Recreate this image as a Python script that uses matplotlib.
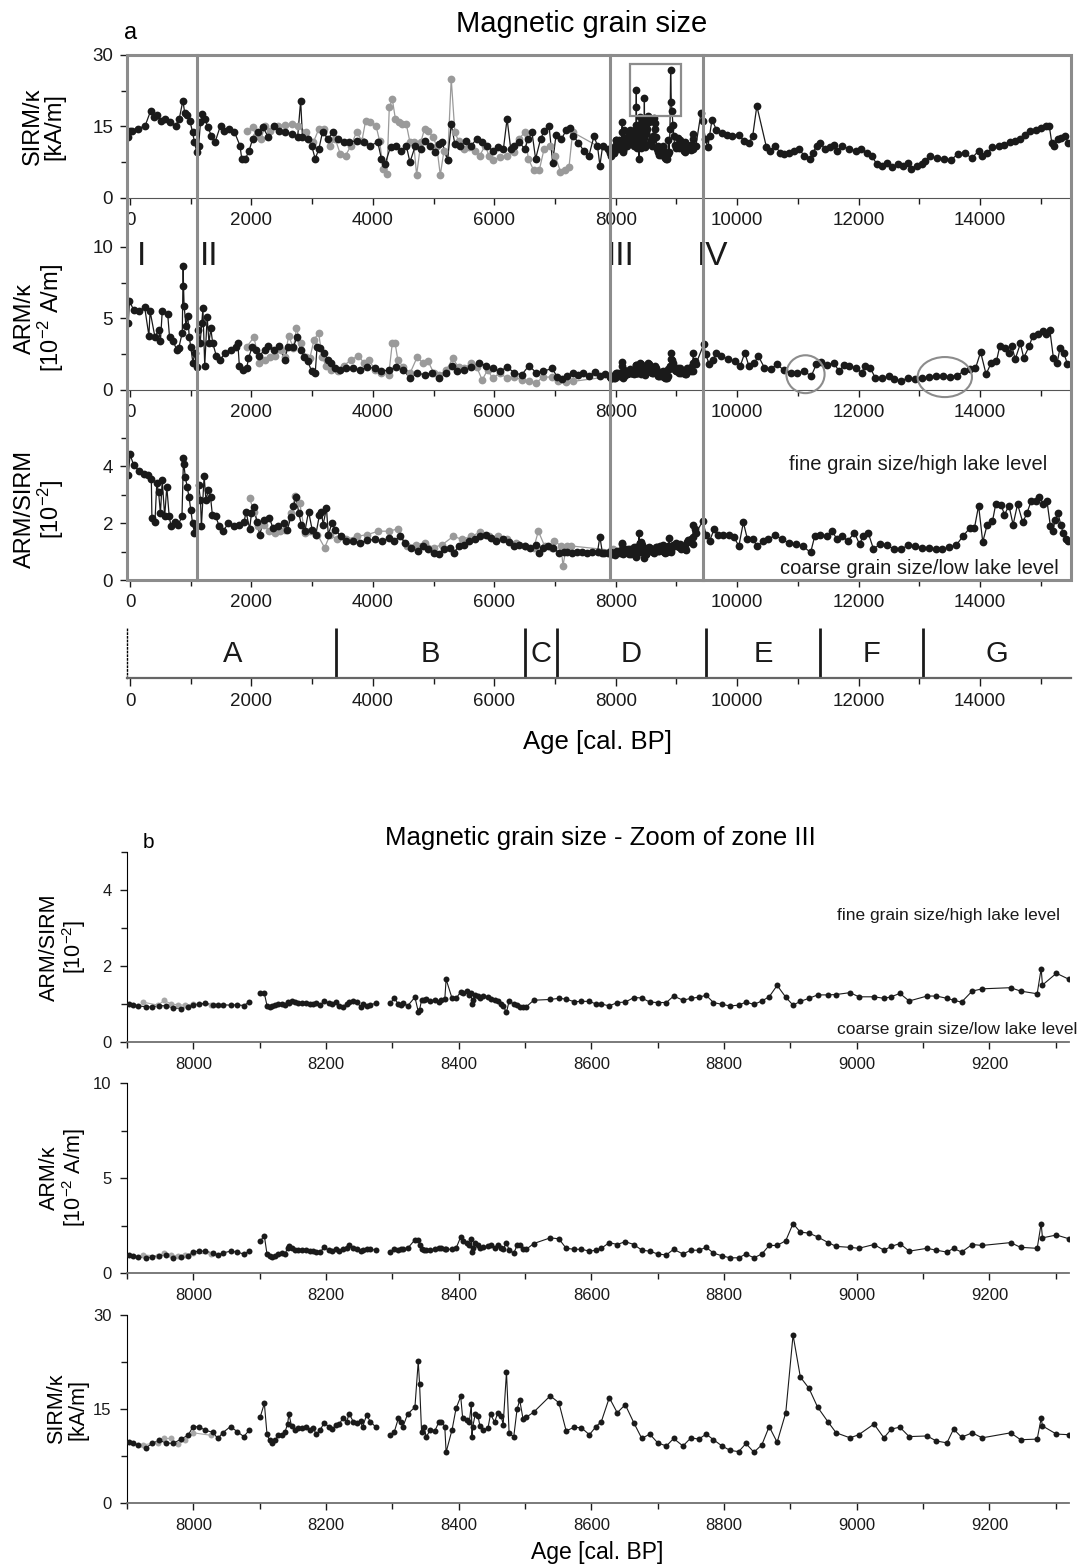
import numpy as np
import matplotlib
matplotlib.use('Agg')
from matplotlib import pyplot as plt
from matplotlib.patches import Rectangle, Ellipse
from matplotlib.lines import Line2D
from matplotlib.ticker import MultipleLocator
import matplotlib.transforms as mtransforms

plt.rcParams['font.family'] = ['Liberation Sans', 'DejaVu Sans']
plt.rcParams['mathtext.fontset'] = 'custom'
plt.rcParams['mathtext.rm'] = 'Liberation Sans'
plt.rcParams['mathtext.default'] = 'regular'

##################################################
# Zone III samples (panel b, also used in panel a)

zIII_age = [7903, 7909, 7917, 7928, 7938, 7948, 7959, 7970, 7981, 7992, 7999, 8008, 8018, 8029, 8037, 8044, 8056, 8066, 8076, 8084,
            8101, 8107, 8111, 8115, 8119, 8123, 8128, 8134, 8138, 8142, 8144, 8148, 8153, 8158, 8164, 8170, 8176, 8181, 8185, 8191,
            8197, 8204, 8209, 8215, 8220, 8225, 8231, 8235, 8241, 8246, 8252, 8255, 8261, 8267, 8275,
            8297, 8303, 8309, 8313, 8316, 8323, 8334, 8339, 8341, 8344, 8348, 8351, 8357, 8364, 8370, 8374, 8379, 8381, 8390, 8396,
            8403, 8406, 8412, 8416, 8419, 8420, 8421, 8425, 8429, 8432, 8437, 8444, 8448, 8454, 8459, 8464, 8467, 8472, 8476, 8483,
            8488, 8492, 8497, 8502, 8513, 8538, 8551, 8562, 8574, 8585, 8597, 8607,
            8615, 8627, 8639, 8651, 8664, 8676, 8688, 8700, 8713, 8724, 8738, 8750, 8762, 8773, 8784, 8797, 8809, 8822, 8833, 8845,
            8857, 8868, 8880, 8893, 8904, 8915, 8928, 8941, 8957, 8969, 8990, 9003, 9026, 9041, 9052, 9065, 9079, 9106, 9120, 9136,
            9146, 9158, 9174, 9189, 9232, 9247, 9272, 9278, 9280, 9301, 9320]

zIII_sirm = [9.7, 9.5, 9.3, 8.8, 9.5, 10.0, 9.6, 9.5, 10.2, 10.8, 12.1, 12.2, 11.6, 11.3, 10.3, 11.2, 12.2, 11.4, 10.6, 11.6,
             13.8, 15.9, 11.0, 10.0, 9.6, 10.0, 10.8, 10.9, 11.3, 12.6, 14.2, 12.3, 11.7, 11.9, 11.9, 12.2, 11.7, 11.9, 11.0, 11.6,
             12.8, 12.2, 11.8, 12.4, 12.6, 13.5, 13.0, 14.2, 13.0, 12.8, 13.1, 12.1, 14.0, 13.0, 12.1,
             10.8, 11.4, 13.5, 12.9, 12.2, 14.2, 15.3, 22.6, 19.0, 11.4, 12.1, 10.5, 11.7, 11.5, 12.9, 13.0, 12.2, 8.1, 11.7, 15.1,
             17.0, 13.5, 13.2, 12.9, 15.8, 10.5, 12.1, 14.2, 13.9, 12.3, 11.7, 11.9, 14.2, 12.9, 14.4, 13.9, 12.5, 20.9, 11.1, 10.6,
             15.0, 16.4, 13.4, 13.7, 14.5, 17.1, 16.0, 11.5, 12.1, 12.0, 10.9, 12.2,
             13.0, 16.8, 14.4, 15.7, 12.8, 10.3, 11.0, 9.6, 9.1, 10.3, 9.1, 10.4, 10.2, 11.0, 10.1, 9.1, 8.4, 8.2, 9.5, 8.1,
             9.3, 12.2, 9.7, 14.4, 26.8, 20.1, 18.3, 15.3, 12.9, 11.2, 10.4, 10.9, 12.6, 10.4, 11.8, 12.1, 10.6, 10.7, 9.9, 9.6,
             11.8, 10.5, 11.2, 10.4, 11.2, 10.1, 10.2, 13.5, 12.3, 11.0, 10.9]

zIII_armk = [0.95, 0.9, 0.85, 0.8, 0.85, 0.9, 0.95, 0.8, 0.85, 0.9, 1.1, 1.15, 1.15, 1.05, 0.95, 1.05, 1.15, 1.1, 1.0, 1.15,
             1.7, 1.95, 1.0, 0.9, 0.85, 0.9, 1.0, 1.05, 1.0, 1.3, 1.4, 1.3, 1.2, 1.2, 1.2, 1.2, 1.15, 1.15, 1.1, 1.1,
             1.35, 1.2, 1.15, 1.25, 1.15, 1.25, 1.3, 1.45, 1.3, 1.25, 1.15, 1.2, 1.25, 1.25, 1.2,
             1.1, 1.25, 1.2, 1.25, 1.25, 1.3, 1.75, 1.75, 1.5, 1.25, 1.2, 1.2, 1.2, 1.25, 1.3, 1.3, 1.25, 1.25, 1.25, 1.3,
             1.9, 1.7, 1.6, 1.5, 1.8, 1.1, 1.3, 1.6, 1.45, 1.3, 1.35, 1.4, 1.5, 1.3, 1.45, 1.3, 1.25, 1.6, 1.2, 1.05,
             1.45, 1.5, 1.25, 1.25, 1.55, 1.85, 1.8, 1.3, 1.25, 1.25, 1.15, 1.2,
             1.3, 1.6, 1.5, 1.65, 1.5, 1.2, 1.15, 1.0, 0.95, 1.25, 1.0, 1.2, 1.2, 1.35, 1.05, 0.9, 0.8, 0.8, 1.0, 0.8,
             1.0, 1.45, 1.45, 1.7, 2.6, 2.15, 2.1, 1.9, 1.6, 1.4, 1.35, 1.3, 1.5, 1.2, 1.4, 1.55, 1.15, 1.3, 1.2, 1.1,
             1.3, 1.1, 1.5, 1.45, 1.6, 1.35, 1.3, 2.6, 1.85, 2.0, 1.8]

zIII_ratio = [1.0, 0.98, 0.95, 0.93, 0.92, 0.96, 0.95, 0.9, 0.88, 0.93, 0.97, 1.0, 1.02, 0.98, 0.97, 0.98, 0.97, 0.98, 0.96, 1.05,
              1.3, 1.28, 0.96, 0.93, 0.94, 0.97, 1.0, 1.0, 0.98, 1.05, 1.02, 1.08, 1.05, 1.03, 1.04, 1.03, 1.0, 1.0, 1.02, 0.97,
              1.08, 1.03, 1.0, 1.05, 0.95, 0.93, 1.0, 1.05, 1.08, 1.05, 0.93, 1.0, 0.95, 0.98, 1.02,
              1.03, 1.15, 1.0, 0.97, 1.03, 0.95, 1.18, 0.8, 0.85, 1.1, 1.1, 1.12, 1.08, 1.1, 1.05, 1.1, 1.12, 1.65, 1.15, 1.15,
              1.32, 1.3, 1.35, 1.25, 1.3, 1.0, 1.1, 1.25, 1.2, 1.15, 1.2, 1.18, 1.12, 1.1, 1.08, 1.0, 0.95, 0.78, 1.08, 1.0,
              0.97, 0.92, 0.93, 0.93, 1.1, 1.12, 1.15, 1.13, 1.06, 1.07, 1.07, 1.0,
              1.0, 0.95, 1.04, 1.05, 1.17, 1.16, 1.05, 1.04, 1.04, 1.21, 1.1, 1.15, 1.18, 1.23, 1.04, 0.99, 0.95, 0.97, 1.05, 0.99,
              1.08, 1.19, 1.49, 1.18, 0.97, 1.07, 1.15, 1.24, 1.24, 1.25, 1.3, 1.19, 1.19, 1.15, 1.19, 1.28, 1.08, 1.21, 1.21, 1.15,
              1.1, 1.05, 1.34, 1.4, 1.43, 1.34, 1.27, 1.93, 1.5, 1.81, 1.65]

zIII_breaks = [8090, 8286]

zIII_grey_age = [7924, 7947, 7956, 7966, 7977, 7987, 8000, 8027]
zIII_grey_sirm = [9.3, 9.6, 10.3, 10.3, 9.4, 10.0, 11.2, 10.8]
zIII_grey_armk = [0.95, 0.9, 1.05, 0.95, 0.9, 0.95, 1.05, 1.0]
zIII_grey_ratio = [1.05, 0.97, 1.1, 1.0, 0.98, 0.97, 1.0, 0.98]

##################################################
# Panel a, before and after zone III

sirm_early_age = [-30, 0, 40, 130, 250, 340, 400, 450, 510, 570, 660, 750, 810, 870, 900, 930, 985, 1030, 1060, 1100,
                  1130, 1160, 1190, 1240, 1280, 1340, 1400, 1490, 1550, 1630, 1720, 1810, 1840, 1900, 1960, 2020, 2110, 2190, 2280, 2370,
                  2460, 2550, 2670, 2760, 2810, 2840, 2930, 2990, 3050, 3110, 3170, 3260, 3340, 3430, 3520, 3610, 3730, 3850, 3960, 4080,
                  4140, 4200, 4290, 4380, 4470, 4550, 4610, 4700, 4790, 4850, 4940, 5030, 5090, 5140, 5230, 5290, 5350, 5440, 5530, 5620,
                  5710, 5790, 5880, 5970, 6060, 6150, 6210, 6270, 6320, 6410, 6500, 6560, 6620, 6680, 6761, 6818, 6903, 6960, 7017, 7102,
                  7188, 7244, 7301, 7386, 7472, 7557, 7642, 7699, 7739, 7784, 7869]
sirm_early = [12.8, 14.0, 14.1, 14.5, 15.2, 18.3, 16.9, 17.3, 16.2, 16.6, 15.9, 15.2, 16.6, 20.4, 17.9, 17.3, 16.2, 13.8, 11.7, 9.6,
              11.0, 15.9, 17.6, 16.6, 14.8, 13.1, 11.7, 15.2, 14.1, 14.5, 13.8, 11.0, 8.2, 8.2, 9.9, 12.4, 13.8, 14.8, 12.7, 15.2,
              14.1, 13.8, 13.4, 12.7, 20.4, 12.7, 12.4, 11.0, 8.2, 10.3, 13.8, 12.4, 13.8, 12.4, 11.7, 11.7, 12.0, 11.7, 11.0, 11.7,
              8.2, 7.1, 10.7, 11.0, 9.9, 11.0, 7.5, 11.0, 10.3, 12.0, 11.0, 9.6, 11.3, 11.7, 7.9, 15.5, 11.3, 11.0, 12.0, 11.0,
              12.4, 11.7, 11.0, 9.9, 10.7, 10.3, 16.6, 10.3, 11.0, 11.7, 10.3, 12.4, 13.8, 8.2, 12.3, 14.0, 15.0, 7.4, 13.3, 12.3,
              14.3, 14.7, 13.0, 11.6, 9.9, 8.8, 13.0, 10.9, 6.8, 10.9, 10.2]

sirm_late_age = [9403, 9432, 9477, 9517, 9545, 9585, 9659, 9744, 9830, 9915, 10028, 10114, 10199, 10256, 10324, 10483, 10540, 10625, 10710, 10767,
                 10852, 10937, 11023, 11108, 11193, 11250, 11307, 11364, 11449, 11534, 11591, 11648, 11733, 11847, 11960, 12045, 12131, 12216, 12301, 12386,
                 12472, 12557, 12642, 12727, 12813, 12870, 12955, 13040, 13097, 13182, 13295, 13409, 13523, 13636, 13750, 13864, 13977, 14034, 14119, 14205,
                 14318, 14403, 14489, 14574, 14659, 14744, 14830, 14915, 15000, 15085, 15142, 15182, 15227, 15284, 15341, 15398, 15455]
sirm_late = [17.8, 16.1, 12.3, 10.6, 13.0, 16.4, 14.3, 13.7, 13.3, 13.1, 13.3, 11.9, 11.6, 13.0, 19.3, 10.6, 9.9, 10.9, 9.5, 9.2,
             9.5, 9.9, 10.2, 8.8, 8.1, 9.5, 10.9, 11.6, 10.2, 10.6, 11.2, 9.9, 10.9, 10.2, 9.9, 10.2, 9.5, 8.8, 7.1, 6.8,
             7.4, 6.4, 7.1, 6.8, 7.4, 6.1, 6.8, 7.1, 7.8, 8.8, 8.3, 8.1, 8.0, 9.2, 9.5, 8.3, 9.9, 8.8, 9.5, 10.6,
             10.9, 11.2, 11.7, 11.9, 12.3, 13.3, 14.0, 14.3, 14.7, 15.2, 15.0, 11.6, 10.9, 12.3, 12.6, 13.0, 11.6]

armk_early_age = [-30, -10, 60, 150, 240, 310, 330, 410, 470, 500, 530, 620, 650, 710, 770, 800, 860, 875, 880, 890,
                  920, 950, 975, 1000, 1035, 1065, 1095, 1125, 1155, 1180, 1200, 1230, 1270, 1300, 1330, 1360, 1420, 1480, 1570, 1660,
                  1745, 1775, 1800, 1860, 1920, 1950, 2010, 2070, 2130, 2220, 2280, 2370, 2455, 2545, 2600, 2690, 2750, 2810, 2870, 2930,
                  2990, 3050, 3080, 3135, 3195, 3255, 3315, 3370, 3460, 3550, 3670, 3790, 3910, 4030, 4140, 4260, 4380, 4500, 4615, 4730,
                  4850, 4970, 5090, 5210, 5300, 5385, 5500, 5620, 5740, 5860, 5975, 6090, 6210, 6330, 6450, 6570, 6690, 6800, 6950, 7040,
                  7120, 7200, 7290, 7380, 7460, 7560, 7660, 7740, 7830]
armk_early = [4.65, 6.2, 5.6, 5.5, 5.8, 3.8, 5.5, 3.7, 4.2, 3.4, 5.5, 5.3, 3.7, 3.4, 2.8, 2.9, 4.0, 8.7, 7.3, 5.9,
              4.5, 5.2, 3.7, 3.0, 1.9, 2.6, 1.6, 4.2, 3.3, 4.65, 5.7, 1.7, 5.1, 3.3, 4.3, 3.3, 2.4, 2.1, 2.6, 2.8,
              3.0, 3.3, 1.7, 1.4, 1.5, 2.2, 3.0, 2.8, 2.4, 2.8, 3.1, 2.8, 3.1, 2.1, 3.0, 3.0, 3.7, 2.8, 2.3, 2.0,
              1.3, 1.2, 3.0, 2.9, 2.6, 2.1, 1.9, 1.5, 1.4, 1.5, 1.5, 1.4, 1.6, 1.5, 1.3, 1.4, 1.6, 1.4, 0.8, 1.2,
              1.05, 1.2, 0.8, 1.2, 1.7, 1.3, 1.4, 1.6, 1.9, 1.7, 1.5, 1.3, 1.6, 1.2, 1.05, 1.7, 1.2, 1.3, 1.5, 0.9,
              0.75, 0.95, 1.2, 1.05, 1.15, 1.0, 1.25, 1.0, 1.1]

armk_late_age = [9450, 9480, 9540, 9600, 9650, 9740, 9850, 9970, 10050, 10125, 10195, 10280, 10350, 10450, 10560, 10650, 10765, 10880, 10990, 11105,
                 11220, 11305, 11380, 11475, 11590, 11680, 11760, 11850, 11960, 12050, 12105, 12190, 12275, 12390, 12500, 12590, 12700, 12815, 12930, 13040,
                 13160, 13270, 13385, 13500, 13615, 13730, 13840, 13925, 14010, 14100, 14185, 14270, 14325, 14410, 14470, 14525, 14580, 14665, 14720, 14810,
                 14865, 14950, 15040, 15095, 15150, 15210, 15270, 15320, 15380, 15440]
armk_late = [3.2, 2.5, 1.8, 2.1, 2.55, 2.35, 2.15, 2.0, 1.65, 2.6, 1.65, 1.9, 2.35, 1.55, 1.45, 1.8, 1.4, 1.2, 1.2, 1.3,
             0.97, 1.8, 1.95, 1.75, 1.9, 1.3, 1.75, 1.65, 1.55, 1.2, 1.65, 1.55, 0.85, 0.8, 0.97, 0.75, 0.63, 0.85, 0.75, 0.8,
             0.9, 0.97, 0.97, 0.93, 1.0, 1.3, 1.45, 1.5, 2.65, 1.1, 1.9, 2.0, 3.05, 2.95, 2.6, 3.05, 2.15, 3.25, 2.25, 3.05,
             3.75, 3.9, 4.1, 3.9, 4.2, 2.2, 1.9, 2.95, 2.6, 1.8]

ratio_early_age = [-30, 0, 60, 150, 235, 295, 350, 360, 410, 440, 470, 500, 530, 570, 605, 645, 675, 735, 795, 855,
                   880, 885, 910, 940, 970, 1000, 1030, 1060, 1090, 1130, 1160, 1175, 1220, 1250, 1290, 1325, 1355, 1410, 1470, 1530,
                   1620, 1705, 1795, 1880, 1910, 1970, 2000, 2040, 2090, 2135, 2205, 2295, 2355, 2440, 2530, 2590, 2650, 2690, 2735, 2780,
                   2820, 2880, 2940, 3000, 3060, 3120, 3150, 3180, 3235, 3265, 3325, 3380, 3470, 3560, 3675, 3795, 3910, 4030, 4145, 4265,
                   4350, 4440, 4530, 4620, 4735, 4825, 4910, 5000, 5090, 5175, 5265, 5335, 5410, 5500, 5590, 5675, 5765, 5855, 5940, 6030,
                   6145, 6235, 6325, 6410, 6500, 6590, 6680, 6735, 6795, 6885, 6970, 7060, 7150, 7200, 7273, 7360, 7443, 7530, 7614, 7700,
                   7739, 7780, 7813, 7870]
ratio_early = [3.69, 4.42, 4.04, 3.84, 3.75, 3.69, 3.57, 2.18, 2.06, 3.4, 3.1, 2.35, 3.51, 2.24, 3.28, 2.24, 1.89, 2.06, 1.95, 2.24,
               4.3, 4.1, 3.63, 3.28, 2.94, 2.47, 2.0, 1.66, 1.89, 3.34, 2.82, 1.89, 3.65, 2.82, 3.17, 2.94, 2.3, 2.24, 1.89, 1.72,
               2.0, 1.89, 1.95, 2.06, 2.41, 1.8, 2.35, 2.56, 2.06, 1.6, 2.12, 2.18, 1.83, 1.89, 2.0, 1.77, 2.22, 2.59, 2.91, 2.35,
               1.95, 1.72, 2.41, 1.77, 1.6, 2.3, 2.41, 1.95, 2.53, 1.6, 2.0, 1.77, 1.54, 1.37, 1.37, 1.31, 1.4, 1.43, 1.37, 1.48,
               1.37, 1.54, 1.31, 1.14, 1.02, 1.19, 1.08, 0.96, 0.9, 1.08, 1.14, 0.96, 1.19, 1.25, 1.37, 1.45, 1.54, 1.6, 1.48, 1.37,
               1.43, 1.33, 1.19, 1.25, 1.19, 1.14, 1.25, 0.96, 1.14, 1.19, 1.14, 0.96, 0.97, 1.0, 0.94, 0.97, 0.97, 0.95, 0.99, 1.0,
               1.52, 0.96, 0.94, 0.95]

ratio_late_age = [9432, 9489, 9545, 9619, 9688, 9773, 9858, 9943, 10028, 10102, 10170, 10256, 10330, 10426, 10511, 10625, 10739, 10852, 10966, 11080,
                  11210, 11278, 11364, 11477, 11563, 11648, 11733, 11818, 11932, 12017, 12074, 12159, 12244, 12358, 12472, 12585, 12699, 12813, 12926, 13040,
                  13153, 13267, 13381, 13494, 13608, 13722, 13835, 13909, 13977, 14045, 14119, 14205, 14261, 14347, 14403, 14477, 14545, 14619, 14705, 14773,
                  14841, 14915, 14972, 15045, 15102, 15159, 15199, 15239, 15284, 15330, 15369, 15409, 15455]
ratio_late = [2.07, 1.6, 1.37, 1.78, 1.6, 1.6, 1.6, 1.52, 1.2, 2.03, 1.43, 1.43, 1.2, 1.37, 1.43, 1.58, 1.43, 1.31, 1.26, 1.2,
              0.97, 1.55, 1.6, 1.55, 1.72, 1.43, 1.55, 1.37, 1.66, 1.26, 1.55, 1.66, 1.1, 1.26, 1.23, 1.08, 1.08, 1.23, 1.2, 1.14,
              1.12, 1.1, 1.08, 1.16, 1.23, 1.55, 1.84, 1.84, 2.62, 1.34, 1.95, 2.07, 2.69, 2.65, 2.3, 2.62, 1.95, 2.67, 2.03, 2.36,
              2.77, 2.77, 2.94, 2.69, 2.8, 1.9, 1.72, 2.13, 2.36, 1.95, 1.66, 1.45, 1.37]

# second (grey) core
sirm_grey_age = [1930, 2020, 2080, 2160, 2220, 2310, 2430, 2550, 2670, 2760, 2900, 3020, 3110, 3200, 3290, 3380, 3460, 3550, 3640, 3730,
                 3820, 3880, 3960, 4050, 4110, 4170, 4230, 4270, 4320, 4370, 4425, 4480, 4550, 4610, 4670, 4720, 4790, 4850, 4910, 4990,
                 5050, 5110, 5170, 5230, 5290, 5350, 5410, 5500, 5590, 5680, 5760, 5850, 5910, 5970, 6090, 6210, 6320, 6410, 6500, 6560,
                 6650, 6740, 6820, 6910, 7000, 7090, 7170, 7230, 7290]
sirm_grey = [14.1, 14.8, 13.1, 12.4, 15.2, 14.1, 15.2, 15.3, 15.5, 15.2, 13.8, 11.7, 14.5, 14.5, 11.0, 12.4, 9.3, 8.9, 11.0, 13.8,
             12.0, 16.2, 15.9, 15.2, 12.0, 6.1, 5.1, 19.0, 20.7, 16.6, 15.9, 15.5, 15.5, 11.7, 11.7, 4.8, 11.7, 14.5, 14.1, 12.7,
             11.0, 4.8, 9.9, 7.9, 25.0, 13.8, 12.0, 10.3, 10.7, 9.9, 8.9, 11.0, 8.9, 7.9, 8.5, 8.9, 9.6, 12.4, 13.8, 8.2,
             5.8, 5.8, 10.3, 11.0, 8.9, 5.5, 5.8, 6.5, 13.8]

armk_grey_age = [1920, 2040, 2130, 2220, 2310, 2395, 2485, 2545, 2615, 2690, 2740, 2810, 2900, 2960, 3030, 3105, 3165, 3225, 3315, 3430,
                 3520, 3640, 3760, 3850, 3940, 4030, 4140, 4260, 4320, 4365, 4410, 4500, 4615, 4730, 4820, 4910, 5000, 5090, 5210, 5315,
                 5410, 5500, 5620, 5710, 5800, 5890, 5975, 6090, 6210, 6330, 6450, 6570, 6690, 6800, 6950, 7050, 7185, 7300]
armk_grey = [3.0, 3.7, 1.9, 2.1, 2.3, 2.4, 2.8, 2.3, 3.8, 2.9, 4.3, 3.3, 2.3, 2.2, 3.5, 4.0, 2.3, 1.7, 1.4, 1.3,
             1.7, 2.1, 2.4, 1.9, 2.1, 1.4, 1.2, 1.05, 3.3, 3.3, 2.1, 1.6, 1.2, 2.3, 1.9, 2.0, 1.2, 1.05, 1.4, 2.2,
             1.6, 1.5, 1.9, 1.6, 0.7, 1.4, 0.8, 1.2, 0.8, 0.9, 0.7, 0.6, 0.5, 0.9, 0.9, 0.6, 0.55, 0.6]

ratio_grey_age = [1970, 2040, 2115, 2205, 2295, 2380, 2470, 2560, 2650, 2720, 2795, 2880, 2970, 3085, 3205, 3295, 3410, 3560, 3735, 3910,
                  4090, 4265, 4410, 4560, 4710, 4855, 5000, 5145, 5325, 5470, 5620, 5765, 5910, 6060, 6205, 6355, 6500, 6650, 6725, 6830,
                  6950, 6990, 7100, 7130, 7190, 7270]
ratio_grey = [2.88, 2.41, 1.89, 1.95, 1.72, 1.66, 1.72, 1.77, 2.35, 2.96, 2.7, 1.66, 1.72, 1.6, 1.14, 1.6, 1.43, 1.43, 1.54, 1.6,
              1.72, 1.72, 1.8, 1.19, 1.25, 1.31, 1.14, 1.25, 1.54, 1.43, 1.54, 1.68, 1.54, 1.54, 1.43, 1.31, 1.19, 1.14, 1.72, 1.19,
              1.14, 1.37, 1.2, 0.5, 1.2, 1.2]

# zones
roman_lines = [1100, 7900, 9440]
roman_labels = ['I', 'II', 'III', 'IV']
zone_bounds = [3390, 6510, 7025, 9480, 11370, 13060]
zone_labels = ['A', 'B', 'C', 'D', 'E', 'F', 'G']

##################################################

BLACK = '#1a1a1a'
GREY = '#9a9a9a'
FRAME = '#8c8c8c'
XLIM_A = (-50, 15500)
XLIM_B = (7900, 9320)

fig = plt.figure(figsize=(10.82, 15.66), dpi=100)

L, W = 0.1174, 0.8725
a1 = fig.add_axes([L, 0.8736, W, 0.0913])
a2 = fig.add_axes([L, 0.7510, W, 0.0913])
a3 = fig.add_axes([L, 0.6296, W, 0.0907])
az = fig.add_axes([L, 0.5670, W, 0.0319])
WB = 0.8706
b1 = fig.add_axes([L, 0.3346, WB, 0.1213])
b2 = fig.add_axes([L, 0.1871, WB, 0.1213])
b3 = fig.add_axes([L, 0.0402, WB, 0.1201])


def style(ax, xlim, ylim, ymaj, ymin, xmaj, xmin, size, pad):
	ax.set_xlim(*xlim)
	ax.set_ylim(*ylim)
	ax.yaxis.set_major_locator(MultipleLocator(ymaj))
	ax.yaxis.set_minor_locator(MultipleLocator(ymin))
	ax.xaxis.set_major_locator(MultipleLocator(xmaj))
	ax.xaxis.set_minor_locator(MultipleLocator(xmin))
	ax.tick_params(which='both', direction='out', width=1, labelsize=size, colors=BLACK)
	ax.tick_params(which='major', length=5, pad=pad)
	ax.tick_params(which='minor', length=4)
	for s in ['top', 'right']:
		ax.spines[s].set_visible(False)
	ax.patch.set_alpha(0)


def series(ax, x, y, color, ms, lw, breaks=()):
	x = np.asarray(x, float)
	y = np.asarray(y, float)
	edges = [-np.inf] + list(breaks) + [np.inf]
	for lo, hi in zip(edges[:-1], edges[1:]):
		m = (x > lo) & (x < hi)
		ax.plot(x[m], y[m], '-', color=color, lw=lw, zorder=2)
	ax.plot(x, y, 'o', color=color, ms=ms, mec='none', zorder=3)


# panel a data
sirm_a_age = np.concatenate([sirm_early_age, zIII_age, sirm_late_age])
sirm_a = np.concatenate([sirm_early, zIII_sirm, sirm_late])
armk_a_age = np.concatenate([armk_early_age, zIII_age, armk_late_age])
armk_a = np.concatenate([armk_early, zIII_armk, armk_late])
ratio_a_age = np.concatenate([ratio_early_age, zIII_age, ratio_late_age])
ratio_a = np.concatenate([ratio_early, zIII_ratio, ratio_late])

for ax, ga, gv, ba, bv in [
		(a1, sirm_grey_age + zIII_grey_age, sirm_grey + zIII_grey_sirm, sirm_a_age, sirm_a),
		(a2, armk_grey_age + zIII_grey_age, armk_grey + zIII_grey_armk, armk_a_age, armk_a),
		(a3, ratio_grey_age + zIII_grey_age, ratio_grey + zIII_grey_ratio, ratio_a_age, ratio_a)]:
	series(ax, ga, gv, GREY, 5.6, 0.9)
	series(ax, ba, bv, BLACK, 5.6, 0.9)

style(a1, XLIM_A, (0, 30), 15, 7.5, 2000, 1000, 13.5, 5)
style(a2, XLIM_A, (0, 10), 5, 2.5, 2000, 1000, 13.5, 5)
style(a3, XLIM_A, (0, 5), 2, 1, 2000, 1000, 13.5, 5)
for ax in (a1, a2, a3):
	ax.spines['left'].set_visible(False)
	ax.spines['bottom'].set_color('#555555')
a3.spines['bottom'].set_visible(False)

ylab = {'sirm': 'SIRM/κ\n[kA/m]', 'armk': 'ARM/κ\n[10$^{-2}$ A/m]', 'ratio': 'ARM/SIRM\n[10$^{-2}$]'}
for ax, key in [(a1, 'sirm'), (a2, 'armk'), (a3, 'ratio')]:
	ax.set_ylabel(ylab[key], fontsize=17, linespacing=1.0)
	ax.yaxis.set_label_coords(-0.065, 0.5)

# grey frame and zone lines
top, bot = 0.8736 + 0.0913, 0.6296
fig.add_artist(Rectangle((L, bot), W, top - bot, transform=fig.transFigure,
                         fill=False, ec=FRAME, lw=2.2, zorder=5))
blend = mtransforms.blended_transform_factory(a1.transData, fig.transFigure)
for xv in roman_lines:
	fig.add_artist(Line2D([xv, xv], [bot, top], transform=blend, color=FRAME, lw=2.2, zorder=5))

a1.add_patch(Rectangle((8240, 17.2), 840, 10.9, fill=False, ec=FRAME, lw=1.6, zorder=4))
a2.add_patch(Ellipse((11125, 1.1), 630, 2.65, fill=False, ec=FRAME, lw=1.5, clip_on=False, zorder=4))
a2.add_patch(Ellipse((13420, 0.9), 895, 2.8, fill=False, ec=FRAME, lw=1.5, clip_on=False, zorder=4))

for xv, lab in zip([120, 1150, 7860, 9340], roman_labels):
	a2.text(xv, 9.3, lab, fontsize=24, ha='left', va='center', color=BLACK)

a3.text(15110, 4.07, 'fine grain size/high lake level', fontsize=14.5, ha='right', va='center', color=BLACK)
a3.text(15290, 0.42, 'coarse grain size/low lake level', fontsize=14.5, ha='right', va='center', color=BLACK)

# zone bar
az.set_xlim(*XLIM_A)
az.set_ylim(0, 1)
az.set_yticks([])
az.xaxis.set_major_locator(MultipleLocator(2000))
az.xaxis.set_minor_locator(MultipleLocator(1000))
az.tick_params(which='both', direction='out', width=1, labelsize=13.5, colors=BLACK)
az.tick_params(which='major', length=6, pad=5)
az.tick_params(which='minor', length=4)
for s in ['top', 'right']:
	az.spines[s].set_visible(False)
az.spines['bottom'].set_color('#666666')
az.spines['bottom'].set_linewidth(1.6)
az.spines['left'].set_linestyle(':')
az.spines['left'].set_linewidth(1.0)
az.patch.set_alpha(0)
az.vlines(zone_bounds, 0, 1, color=BLACK, lw=2)
edges = [0] + zone_bounds + [XLIM_A[1]]
for lo, hi, lab in zip(edges[:-1], edges[1:], zone_labels):
	az.text((lo + hi) / 2, 0.48, lab, fontsize=21, ha='center', va='center', color=BLACK)

fig.text(0.5379, 0.9847, 'Magnetic grain size', fontsize=21, ha='center', va='center')
fig.text(0.1211, 0.9789, 'a', fontsize=17, ha='center', va='center')
fig.text(0.5518, 0.5262, 'Age [cal. BP]', fontsize=18.5, ha='center', va='center')

##################################################
# panel b

for ax, gv, bv in [(b1, zIII_grey_ratio, zIII_ratio), (b2, zIII_grey_armk, zIII_armk), (b3, zIII_grey_sirm, zIII_sirm)]:
	series(ax, zIII_grey_age, gv, '#a8a8a8', 4.3, 0.8)
	series(ax, zIII_age, bv, BLACK, 4.3, 0.8, zIII_breaks)

style(b1, XLIM_B, (0, 5), 2, 1, 200, 100, 12, 6)
style(b2, XLIM_B, (0, 10), 5, 2.5, 200, 100, 12, 6)
style(b3, XLIM_B, (0, 30), 15, 7.5, 200, 100, 12, 6)
for ax, key in [(b1, 'ratio'), (b2, 'armk'), (b3, 'sirm')]:
	ax.spines['bottom'].set_color('#707070')
	ax.spines['bottom'].set_linewidth(1.3)
	ax.set_ylabel(ylab[key], fontsize=15.5, linespacing=1.05)
	ax.yaxis.set_label_coords(-0.041, 0.5)

b1.text(9306, 3.32, 'fine grain size/high lake level', fontsize=12.5, ha='right', va='center', color=BLACK)
b1.text(9333, 0.34, 'coarse grain size/low lake level', fontsize=12.5, ha='right', va='center', color=BLACK)

fig.text(0.5545, 0.4649, 'Magnetic grain size - Zoom of zone III', fontsize=18.5, ha='center', va='center')
fig.text(0.1368, 0.4617, 'b', fontsize=15, ha='center', va='center')
fig.text(0.5518, 0.0089, 'Age [cal. BP]', fontsize=16.5, ha='center', va='center')

fig.savefig('out.png', dpi=100)
